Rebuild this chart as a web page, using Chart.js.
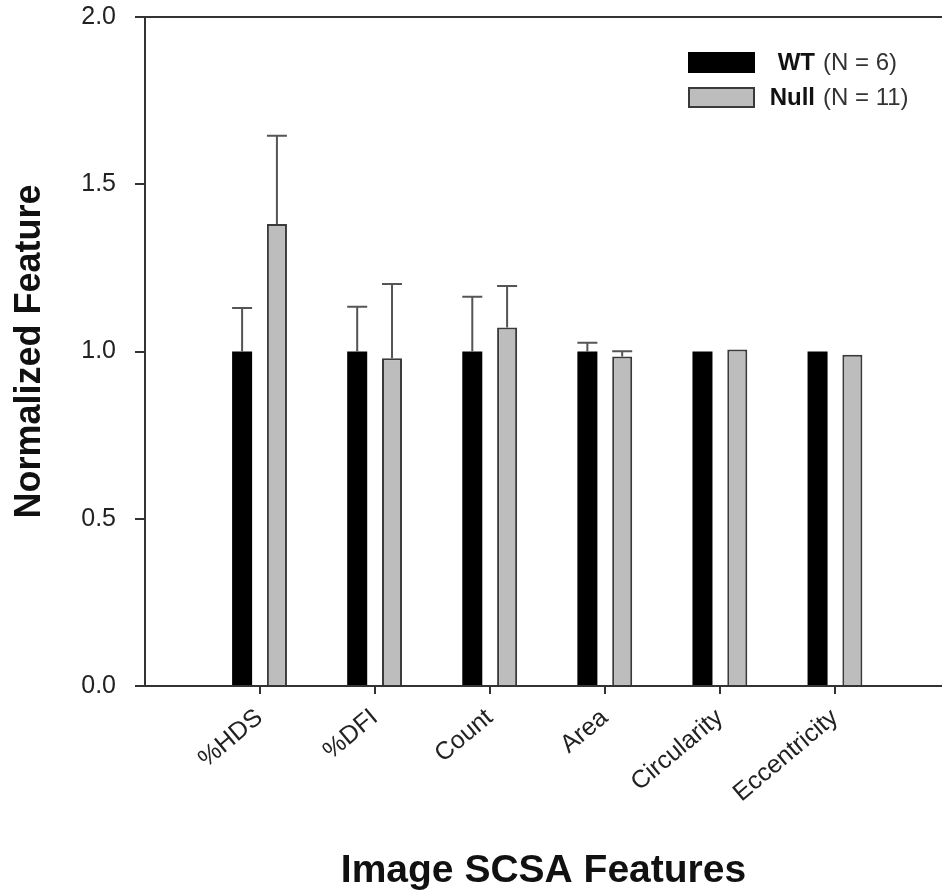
<!DOCTYPE html>
<html>
<head>
<meta charset="utf-8">
<script src="https://cdn.jsdelivr.net/npm/chart.js@4/dist/chart.umd.min.js"></script>
<style>
  html, body { margin: 0; padding: 0; background: #fff; }
  #my-canvas { display: block; }
</style>
</head>
<body>
<canvas id="my-canvas" width="942" height="892"></canvas>
<script>
const categories = ['%HDS', '%DFI', 'Count', 'Area', 'Circularity', 'Eccentricity']
const yTicks = [0, 0.5, 1.0, 1.5, 2.0]
const seriesNames = ['WT', 'Null']
const seriesN = ['(N = 6)', '(N = 11)']
const wtMean = [1.0, 1.0, 1.0, 1.0, 1.0, 1.0]
const wtErr = [0.13, 0.134, 0.164, 0.026, 0, 0]
const nullMean = [1.381, 0.98, 1.072, 0.985, 1.006, 0.99]
const nullErr = [0.264, 0.222, 0.124, 0.016, 0, 0]

const family = "'Liberation Sans', Arial, sans-serif"

// upper error bars, drawn from the bar top up to mean + err
const errorBars = {
    id: 'errorBars',
    afterDatasetsDraw(chart) {
        const ctx = chart.ctx
        const y = chart.scales.y
        chart.data.datasets.forEach((ds, i) => {
            chart.getDatasetMeta(i).data.forEach((bar, j) => {
                const err = ds.errors[j]
                if (!err) return
                const top = y.getPixelForValue(ds.data[j].y + err)
                const half = bar.width / 2
                ctx.save()
                ctx.strokeStyle = '#555'
                ctx.lineWidth = 2
                ctx.beginPath()
                ctx.moveTo(bar.x, bar.y)
                ctx.lineTo(bar.x, top)
                ctx.moveTo(bar.x - half, top)
                ctx.lineTo(bar.x + half, top)
                ctx.stroke()
                ctx.restore()
            })
        })
    }
}

// legend inside the plot, bold name + normal N
const boxLegend = {
    id: 'boxLegend',
    afterDraw(chart) {
        const ctx = chart.ctx
        const area = chart.chartArea
        chart.data.datasets.forEach((ds, i) => {
            const top = area.top + 35 + i * 35
            const left = area.left + 543
            ctx.save()
            ctx.fillStyle = ds.backgroundColor
            ctx.fillRect(left, top, 67, 21)
            if (ds.borderWidth) {
                ctx.strokeStyle = ds.borderColor
                ctx.lineWidth = 2
                ctx.strokeRect(left + 1, top + 1, 65, 19)
            }
            ctx.textBaseline = 'middle'
            ctx.fillStyle = '#111'
            ctx.font = 'bold 24px ' + family
            ctx.textAlign = 'right'
            ctx.fillText(seriesNames[i], left + 127, top + 11)
            ctx.fillStyle = '#333'
            ctx.font = '24px ' + family
            ctx.textAlign = 'left'
            ctx.fillText(seriesN[i], left + 135, top + 11)
            ctx.restore()
        })
    }
}

window.onload = () => {
    const canvas = document.querySelector('#my-canvas')
    const ctx = canvas.getContext('2d')

    new Chart(ctx, {
        type: 'bar',
        data: {
            datasets: [
                {
                    label: seriesNames[0],
                    data: wtMean.map((v, i) => ({ x: i, y: v })),
                    errors: wtErr,
                    backgroundColor: '#000',
                    borderColor: '#000',
                    borderWidth: 0
                },
                {
                    label: seriesNames[1],
                    data: nullMean.map((v, i) => ({ x: i, y: v })),
                    errors: nullErr,
                    backgroundColor: '#bdbdbd',
                    borderColor: '#3a3a3a',
                    borderWidth: 2
                }
            ]
        },
        options: {
            responsive: false,
            animation: false,
            layout: { padding: { top: 17, right: 0, bottom: 0, left: 0 } },
            datasets: { bar: { categoryPercentage: 0.605, barPercentage: 0.575 } },
            plugins: { legend: { display: false }, tooltip: { enabled: false } },
            scales: {
                x: {
                    type: 'linear',
                    min: -0.995,
                    max: 5.93,
                    offset: false,
                    afterBuildTicks: axis => { axis.ticks = categories.map((c, i) => ({ value: i })) },
                    afterFit: axis => { axis.height = 206; axis.paddingLeft = 0; axis.paddingRight = 0 },
                    grid: { offset: false, drawOnChartArea: false, drawTicks: true, tickLength: 8, color: '#333', lineWidth: 2 },
                    border: { display: true, color: '#333', width: 2 },
                    ticks: {
                        autoSkip: false,
                        minRotation: 40,
                        maxRotation: 40,
                        padding: 9,
                        color: '#222',
                        font: { family, size: 25 },
                        callback: v => categories[v] ?? ''
                    },
                    title: {
                        display: true,
                        text: 'Image SCSA Features',
                        color: '#111',
                        font: { family, size: 39, weight: 'bold', lineHeight: 1 },
                        padding: { top: 0, bottom: 1 }
                    }
                },
                xTop: {
                    type: 'linear',
                    position: 'top',
                    afterFit: axis => { axis.height = 0 },
                    grid: { display: false },
                    ticks: { display: false },
                    border: { display: true, color: '#333', width: 2 }
                },
                y: {
                    min: 0,
                    max: 2,
                    afterBuildTicks: axis => { axis.ticks = yTicks.map(v => ({ value: v })) },
                    afterFit: axis => { axis.width = 145; axis.paddingTop = 0; axis.paddingBottom = 0 },
                    grid: { drawOnChartArea: false, drawTicks: true, tickLength: 10, color: '#333', lineWidth: 2 },
                    border: { display: true, color: '#333', width: 2 },
                    ticks: {
                        padding: 19,
                        color: '#222',
                        font: { family, size: 25 },
                        callback: v => v.toFixed(1)
                    },
                    title: {
                        display: true,
                        text: 'Normalized Feature',
                        color: '#111',
                        font: { family, size: 36, weight: 'bold' },
                        padding: { top: 8 }
                    }
                }
            }
        },
        plugins: [errorBars, boxLegend]
    })
}
</script>
</body>
</html>
